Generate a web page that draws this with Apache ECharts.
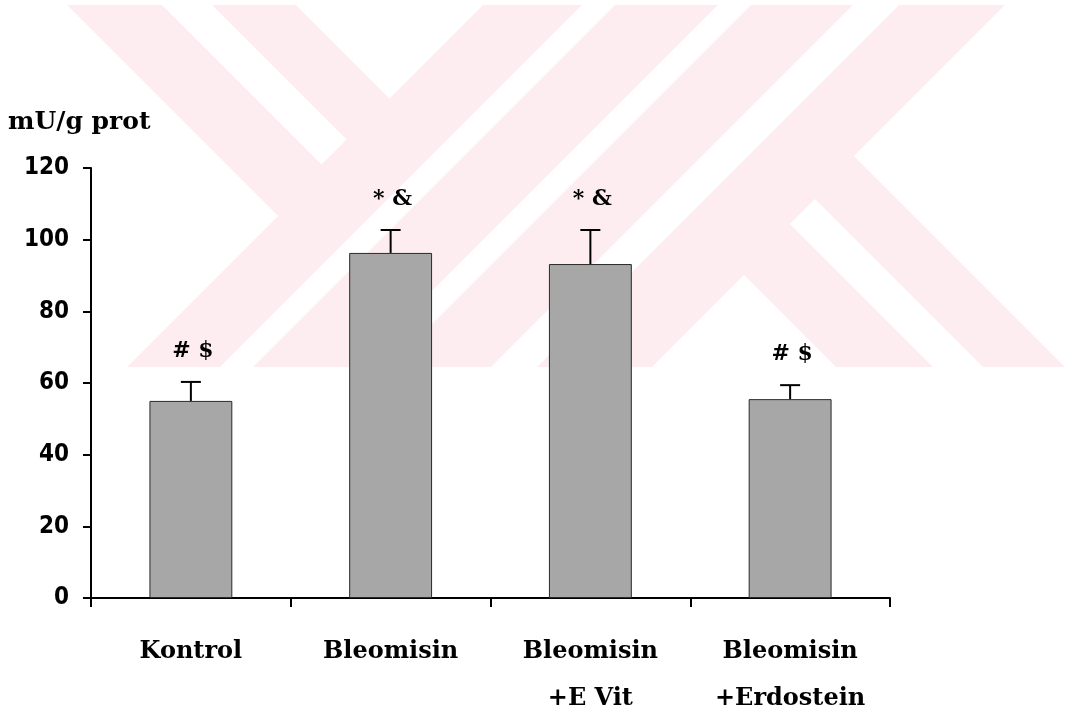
<!DOCTYPE html>
<html>
<head>
<meta charset="utf-8">
<script src="https://cdn.jsdelivr.net/npm/echarts@6/dist/echarts.min.js"></script>
<style>
  html, body { margin: 0; padding: 0; background: #fff; }
  #chart { width: 1067px; height: 712px; }
</style>
</head>
<body>
<div id="chart"></div>
<script>
// groups on the x axis
const categories = ['Kontrol', 'Bleomisin', 'Bleomisin\n+E Vit', 'Bleomisin\n+Erdostein'];
// mean values (mU/g prot)
const means = [55.0, 96.3, 93.2, 55.5];
// top of the error bar (mean + SD)
const upper = [60.3, 102.7, 102.7, 59.4];
// significance marks over each bar
const marks = ['# $', '* &', '* &', '# $'];
// y axis
const yMin = 0;
const yMax = 120;
const yStep = 20;

const numFont = "'Liberation Sans Narrow', 'DejaVu Sans Condensed', 'Liberation Sans', sans-serif";
const serifFont = "'DejaVu Serif', 'Liberation Serif', serif";

// faint pink background watermark (decoration only)
const pink = '#fdedf0';
const holes = [
  [[0, 5], [67, 5], [278, 216], [127, 367], [0, 367]],
  [[162, 5], [212, 5], [346.5, 139.5], [321.5, 164.5]],
  [[296, 5], [483, 5], [389.5, 98.5]],
  [[582, 5], [615, 5], [253, 367], [220, 367]],
  [[718, 5], [751, 5], [389, 367], [356, 367]],
  [[853, 5], [899, 5], [537, 367], [491, 367]],
  [[1005, 5], [1067, 5], [1067, 369], [854, 156]],
  [[744, 275], [836, 367], [652, 367]],
  [[790, 224], [815, 199], [983, 367], [933, 367]]
];

const watermark = [
  { type: 'rect', z: -20, shape: { x: 0, y: 5, width: 1067, height: 362 }, style: { fill: pink }, silent: true }
].concat(holes.map(function (pts) {
  return { type: 'polygon', z: -19, shape: { points: pts }, style: { fill: '#fff' }, silent: true };
}));

const myChart = echarts.init(document.getElementById('chart'));

myChart.setOption({
  backgroundColor: '#fff',
  animation: false,
  graphic: watermark.concat([
    {
      type: 'text', left: 8, top: 110,
      style: { text: 'mU/g prot', font: 'bold 25px ' + serifFont, fill: '#000' }
    }
  ]),
  grid: { left: 91, right: 177, top: 168, bottom: 114, outerBoundsMode: 'none', containLabel: false },
  xAxis: {
    type: 'category',
    data: categories,
    axisLine: { lineStyle: { color: '#000', width: 2 } },
    axisTick: { show: true, length: 9, lineStyle: { color: '#000', width: 2 } },
    axisLabel: {
      color: '#000',
      fontFamily: serifFont,
      fontWeight: 'bold',
      fontSize: 24,
      lineHeight: 47,
      margin: 30
    }
  },
  yAxis: {
    type: 'value',
    min: yMin,
    max: yMax,
    interval: yStep,
    splitLine: { show: false },
    axisLine: { show: true, lineStyle: { color: '#000', width: 2 } },
    axisTick: { show: true, length: 8, lineStyle: { color: '#000', width: 2 } },
    axisLabel: {
      color: '#000',
      fontFamily: numFont,
      fontWeight: 'bold',
      fontSize: 24,
      margin: 22
    }
  },
  series: [
    {
      type: 'bar',
      data: means,
      barWidth: '41.5%',
      itemStyle: { color: '#a7a7a7', borderColor: '#2a2a2a', borderWidth: 1 }
    },
    {
      type: 'custom',
      data: categories.map(function (c, i) { return [i, means[i], upper[i]]; }),
      encode: { x: 0, y: 2 },
      z: 5,
      renderItem: function (params, api) {
        const idx = api.value(0);
        const base = api.coord([idx, api.value(1)]);
        const top = api.coord([idx, api.value(2)]);
        return {
          type: 'group',
          children: [
            { type: 'line', shape: { x1: base[0], y1: base[1], x2: top[0], y2: top[1] },
              style: { stroke: '#000', lineWidth: 2 } },
            { type: 'line', shape: { x1: top[0] - 10, y1: top[1], x2: top[0] + 10, y2: top[1] },
              style: { stroke: '#000', lineWidth: 2 } },
            { type: 'text', x: top[0] + 2, y: top[1] - 31,
              style: { text: marks[idx], fill: '#000', font: 'bold 22px ' + serifFont,
                       align: 'center', verticalAlign: 'middle' } }
          ]
        };
      }
    }
  ]
});
</script>
</body>
</html>
